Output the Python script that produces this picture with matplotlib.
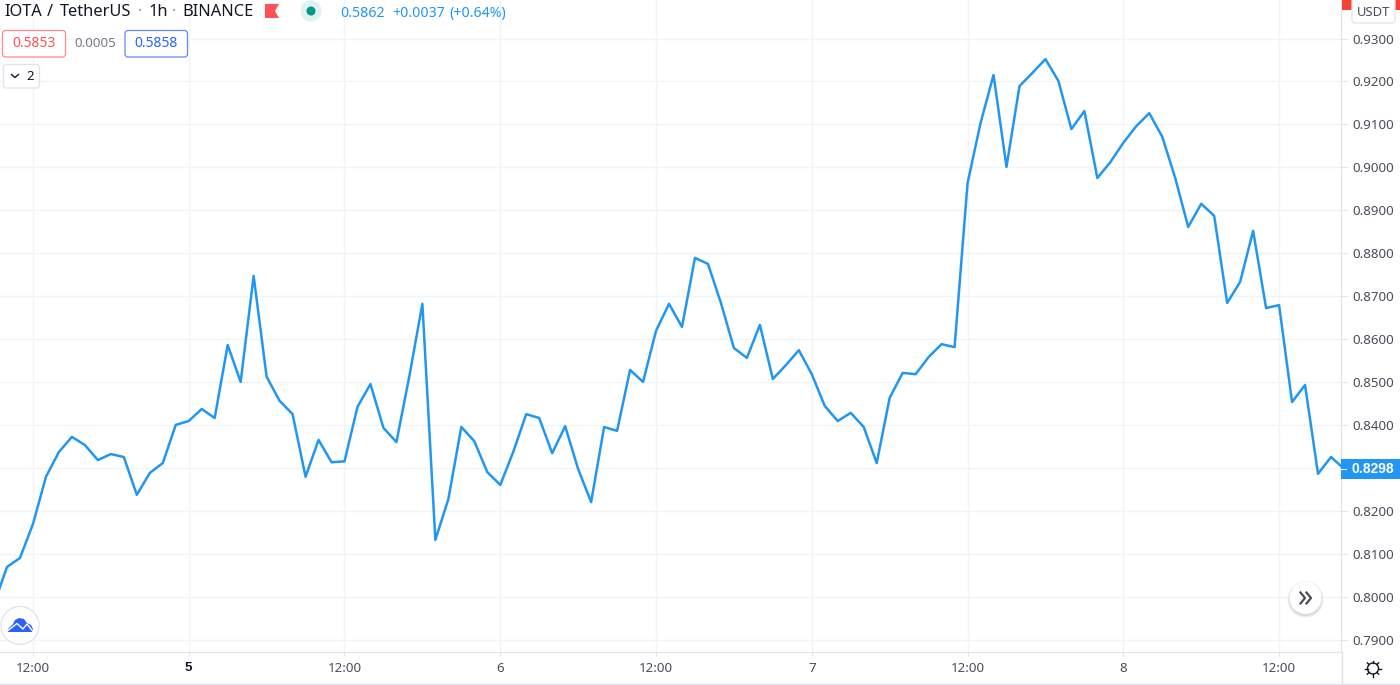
import numpy as np
import matplotlib
matplotlib.use("Agg")
import matplotlib.pyplot as plt
from matplotlib.patches import Circle, FancyBboxPatch, Polygon, Rectangle

plt.rcParams['font.family'] = ['Noto Sans', 'DejaVu Sans']

# hourly closes IOTA/USDT (first value is just off the left edge)
closes = [
    0.7983, 0.8069, 0.8090, 0.8169, 0.8279, 0.8337, 0.8372, 0.8353, 0.8318, 0.8332,
    0.8325, 0.8237, 0.8288, 0.8311, 0.8400, 0.8409, 0.8437, 0.8416, 0.8586, 0.8500,
    0.8747, 0.8512, 0.8456, 0.8425, 0.8279, 0.8365, 0.8313, 0.8315, 0.8442, 0.8495,
    0.8393, 0.8360, 0.8514, 0.8682, 0.8132, 0.8227, 0.8395, 0.8362, 0.8290, 0.8260,
    0.8337, 0.8425, 0.8416, 0.8334, 0.8397, 0.8297, 0.8220, 0.8395, 0.8386, 0.8528,
    0.8500, 0.8619, 0.8682, 0.8628, 0.8789, 0.8775, 0.8684, 0.8579, 0.8556, 0.8633,
    0.8507, 0.8539, 0.8574, 0.8518, 0.8444, 0.8409, 0.8428, 0.8395, 0.8311, 0.8463,
    0.8521, 0.8518, 0.8558, 0.8588, 0.8581, 0.8963, 0.9103, 0.9215, 0.9001, 0.9189,
    0.9220, 0.9252, 0.9201, 0.9089, 0.9131, 0.8975, 0.9012, 0.9057, 0.9096, 0.9126,
    0.9071, 0.8975, 0.8861, 0.8915, 0.8887, 0.8684, 0.8733, 0.8852, 0.8672, 0.8679,
    0.8453, 0.8493, 0.8286, 0.8325, 0.8298,
]
time_labels = ["12:00", "5", "12:00", "6", "12:00", "7", "12:00", "8", "12:00"]
price_ticks = [0.79, 0.80, 0.81, 0.82, 0.83, 0.84, 0.85, 0.86, 0.87, 0.88, 0.89, 0.90, 0.91, 0.92, 0.93]
last_price = closes[-1]

LINE = "#2196f3"
GRID = "#f3f4f6"
BORDER = "#e0e3eb"
TEXT = "#131722"
AXIS_TEXT = "#4a4d58"
RED = "#ff5252"
BLUE = "#2962ff"
BOLD_FONT = "Liberation Sans"

W, H = 1400, 685
fig = plt.figure(figsize=(W / 100, H / 100), dpi=100, facecolor="white")
ax = fig.add_axes([0, (H - 652) / H, 1341 / W, 652 / H])

hours = np.arange(len(closes)) - 3
ax.plot(hours, closes, color=LINE, lw=1.8, solid_joinstyle="round", zorder=3)

ax.set_xlim(-2.54, 100.77)
ax.set_ylim(0.78709, 0.93897)
ax.set_xticks(np.arange(len(time_labels)) * 12, time_labels)
ax.set_yticks(price_ticks, [f"{p:.4f}" for p in price_ticks])
ax.yaxis.tick_right()
ax.grid(True, color=GRID, lw=1)
ax.set_axisbelow(True)
ax.tick_params(axis="x", length=3, width=0.8, color=BORDER, labelsize=9.6, labelcolor=AXIS_TEXT, pad=4.5)
ax.tick_params(axis="y", length=4, width=0.8, color=BORDER, labelsize=9.6, labelcolor=AXIS_TEXT, pad=4.5)
ax.get_xticklabels()[1].set(fontweight="bold", color=TEXT, family=BOLD_FONT)
for side in ["top", "left"]:
    ax.spines[side].set_visible(False)
for side in ["right", "bottom"]:
    ax.spines[side].set_color(BORDER)

# overlay in pixel coords for the TradingView interface bits
ov = fig.add_axes([0, 0, 1, 1], zorder=5)
ov.set_xlim(0, W)
ov.set_ylim(H, 0)
ov.axis("off")


def box(x0, y0, x1, y1, edge, fill="white", rad=3, lw=0.9):
    ov.add_patch(FancyBboxPatch((x0 + rad, y0 + rad), x1 - x0 - 2 * rad, y1 - y0 - 2 * rad,
                                boxstyle=f"round,pad={rad},rounding_size={rad}",
                                fc=fill, ec=edge, lw=lw))


def label(x, y, s, size=9.6, color=TEXT, ha="left", **kw):
    ov.text(x, y, s, fontsize=size, color=color, ha=ha, va="center", **kw)


# header
label(4, 11.5, "IOTA", size=11.8)
label(50, 11.5, "/", size=11.8, ha="center")
label(60, 11.5, "TetherUS", size=11.8)
label(140, 11.5, "·", size=11.8, color="#9598a1", ha="center")
label(148, 11.5, "1h", size=11.8)
label(174, 11.5, "·", size=11.8, color="#9598a1", ha="center")
label(182, 11.5, "BINANCE", size=11.8)
ov.add_patch(Polygon([(265, 4), (279, 4), (275, 11), (279, 18), (265, 18)], fc=RED, ec="none"))
ov.add_patch(Circle((311, 11), 10.5, fc="#e0f2ef", ec="none"))
ov.add_patch(Circle((311, 11), 4.5, fc="#009688", ec="none"))
label(340, 13.5, "0.5862", size=10.2, color=LINE)
label(392, 13.5, "+0.0037", size=10.2, color=LINE)
label(449, 13.5, "(+0.64%)", size=10.2, color=LINE)

# bid / spread / ask
box(2.5, 30.5, 65.5, 57, "#ff8a8a")
label(34, 43.5, "0.5853", size=10, color=RED, ha="center")
label(95, 43.5, "0.0005", size=9.6, color="#787b86", ha="center")
box(125, 30.5, 187.5, 57, "#6488ff")
label(156, 43.5, "0.5858", size=10, color=BLUE, ha="center")

# collapsed indicators button
box(3.5, 64.5, 39.5, 88, BORDER)
ov.plot([11.5, 15, 18.5], [74.5, 77.5, 74.5], color=TEXT, lw=1)
label(30, 76, "2", size=9.6, ha="center")

# price scale extras
ov.add_patch(Rectangle((1342, 0), 58, 10, fc="#f44336", ec="none"))
box(1352, -3, 1395, 23, BORDER)
label(1373.5, 12, "USDT", size=9.4, color=AXIS_TEXT, ha="center")
ov.add_patch(Rectangle((1341, 459), 59, 19.5, fc=LINE, ec="none"))
ov.plot([1341, 1346], [468.5, 468.5], color="white", lw=0.8)
label(1373, 468.5, f"{last_price:.4f}", size=10, color="white", ha="center", fontweight="bold", family=BOLD_FONT)

# bottom frame
ov.plot([0, W], [683.5, 683.5], color=BORDER, lw=1)
ov.plot([1341.5, 1341.5], [652, 683.5], color=BORDER, lw=1)

# settings gear
ov.add_patch(Circle((1373, 668.5), 5.5, fc="white", ec=TEXT, lw=1))
for ang in np.arange(8) * np.pi / 4:
    ov.plot([1373 + 5.5 * np.cos(ang), 1373 + 8 * np.cos(ang)],
            [668.5 + 5.5 * np.sin(ang), 668.5 + 8 * np.sin(ang)], color=TEXT, lw=1)

# scroll to latest button
for r, a in [(18.5, 0.03), (17.5, 0.05), (16.5, 0.07)]:
    ov.add_patch(Circle((1305.5, 599.5), r, fc="black", ec="none", alpha=a))
ov.add_patch(Circle((1305.5, 598), 16, fc="white", ec="none"))
for dx in [0, 6]:
    ov.plot([1300.5 + dx, 1305 + dx, 1300.5 + dx], [592.5, 598, 603.5], color=AXIS_TEXT, lw=1.6)

# logo
ov.add_patch(Circle((20, 625.5), 19, fc="white", ec=BORDER, lw=0.9))
ov.add_patch(Polygon([(8, 632), (8, 629), (13, 624), (15, 620), (19, 618), (24, 619), (27, 623),
                      (31, 625), (33, 629), (33, 632)], fc=BLUE, ec="none", closed=True))
ov.plot([8, 17, 23, 27, 33], [630.5, 623.5, 629, 624, 631.5], color="white", lw=1)

fig.savefig("out.png", dpi=100, facecolor="white")
